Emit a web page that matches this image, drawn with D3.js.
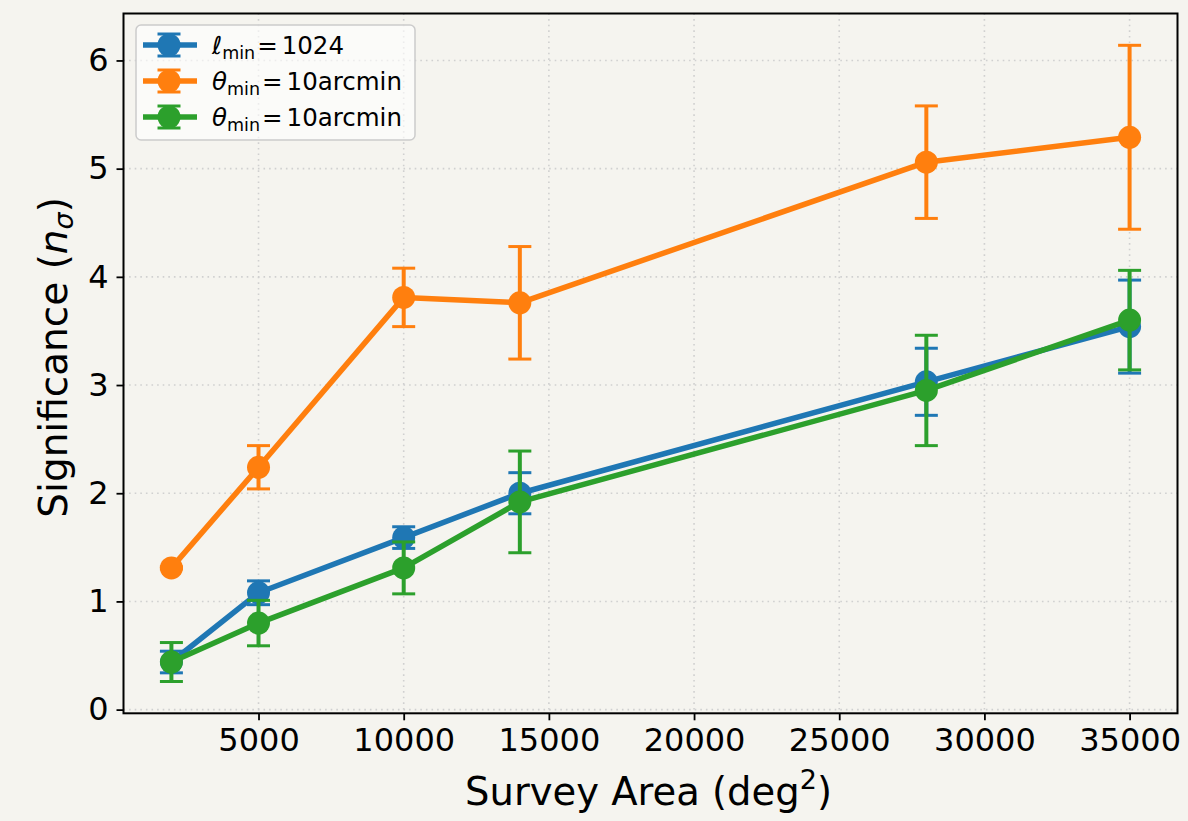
<!DOCTYPE html>
<html><head><meta charset="utf-8">
<script src="https://cdn.jsdelivr.net/npm/d3@7"></script>
<style>
html,body{margin:0;padding:0;background:#f5f4ef;}
text{font-family:"DejaVu Sans",sans-serif;}
</style></head>
<body>
<svg id="chart" width="1188" height="821"></svg>
<script>
const areas = [2000, 5000, 10000, 14000, 28000, 35000];
const xTicks = [5000, 10000, 15000, 20000, 25000, 30000, 35000];
const yTicks = [0, 1, 2, 3, 4, 5, 6];

const blueVals = [0.44, 1.08, 1.59, 2.00, 3.03, 3.54];
const blueErr  = [0.10, 0.11, 0.10, 0.19, 0.31, 0.43];
const orangeVals = [1.31, 2.24, 3.81, 3.76, 5.06, 5.29];
const orangeErr  = [0.01, 0.20, 0.27, 0.52, 0.52, 0.85];
const greenVals = [0.44, 0.80, 1.31, 1.92, 2.95, 3.60];
const greenErr  = [0.18, 0.21, 0.24, 0.47, 0.51, 0.46];

const legendSymbols = ["ℓ", "θ", "θ"];
const legendValues = ["1024", "10arcmin", "10arcmin"];

const series = [
  {vals: blueVals, err: blueErr, color: "#1f77b4"},
  {vals: orangeVals, err: orangeErr, color: "#ff7f0e"},
  {vals: greenVals, err: greenErr, color: "#2ca02c"}
];

const svg = d3.select("#chart");
const L = 123.5, R = 1177.5, T = 13.5, B = 713.3;
const x = d3.scaleLinear().domain([350, 36650]).range([L, R]);
const y = d3.scaleLinear().domain([-0.034, 6.434]).range([B, T]);

// grid
const grid = svg.append("g");
grid.selectAll("line.gx").data(xTicks).join("line")
  .attr("x1", d => x(d)).attr("x2", d => x(d)).attr("y1", T).attr("y2", B)
  .attr("stroke", "#d0d0d0").attr("stroke-width", 1.6).attr("stroke-dasharray", "1.6,4");
grid.selectAll("line.gy").data(yTicks).join("line")
  .attr("y1", d => y(d)).attr("y2", d => y(d)).attr("x1", L).attr("x2", R)
  .attr("stroke", "#d0d0d0").attr("stroke-width", 1.6).attr("stroke-dasharray", "1.6,4");

// series
const cap = 11.5;
series.forEach(s => {
  const g = svg.append("g");
  const pts = areas.map((a, i) => ({x: a, y: s.vals[i], e: s.err[i]}));
  g.append("path").datum(pts)
    .attr("d", d3.line().x(d => x(d.x)).y(d => y(d.y)))
    .attr("fill", "none").attr("stroke", s.color).attr("stroke-width", 5.5)
    .attr("stroke-linejoin", "round");
  g.selectAll("line.eb").data(pts).join("line")
    .attr("x1", d => x(d.x)).attr("x2", d => x(d.x))
    .attr("y1", d => y(d.y - d.e)).attr("y2", d => y(d.y + d.e))
    .attr("stroke", s.color).attr("stroke-width", 4);
  ["-", "+"].forEach(sign => {
    g.selectAll("line.cap" + (sign === "-" ? "m" : "p")).data(pts).join("line")
      .attr("x1", d => x(d.x) - cap).attr("x2", d => x(d.x) + cap)
      .attr("y1", d => y(sign === "-" ? d.y - d.e : d.y + d.e))
      .attr("y2", d => y(sign === "-" ? d.y - d.e : d.y + d.e))
      .attr("stroke", s.color).attr("stroke-width", 3);
  });
  g.selectAll("circle").data(pts).join("circle")
    .attr("cx", d => x(d.x)).attr("cy", d => y(d.y)).attr("r", 11.5)
    .attr("fill", s.color);
});

// axes
const xAxis = svg.append("g").attr("transform", `translate(0,${B})`)
  .call(d3.axisBottom(x).tickValues(xTicks).tickFormat(d3.format("d")).tickSize(7).tickPadding(8));
const yAxis = svg.append("g").attr("transform", `translate(${L},0)`)
  .call(d3.axisLeft(y).tickValues(yTicks).tickFormat(d3.format("d")).tickSize(7).tickPadding(8));
[xAxis, yAxis].forEach(a => {
  a.select(".domain").remove();
  a.selectAll(".tick line").attr("stroke", "#000").attr("stroke-width", 1.8);
  a.selectAll(".tick text").attr("font-size", 32).attr("fill", "#000")
    .attr("font-family", "DejaVu Sans");
});
svg.append("rect").attr("x", L).attr("y", T).attr("width", R - L).attr("height", B - T)
  .attr("fill", "none").attr("stroke", "#000").attr("stroke-width", 2);

// axis labels
const xl = svg.append("text").attr("x", (L + R) / 2 - 2).attr("y", 805)
  .attr("text-anchor", "middle").attr("font-size", 38.5).attr("fill", "#000");
xl.append("tspan").text("Survey Area (deg");
xl.append("tspan").text("2").attr("font-size", 27).attr("dy", -16);
xl.append("tspan").text(")").attr("dy", 16);

const yl = svg.append("text").attr("transform", `translate(67,${(T + B) / 2 - 6}) rotate(-90)`)
  .attr("text-anchor", "middle").attr("font-size", 39).attr("fill", "#000");
yl.append("tspan").text("Significance (");
yl.append("tspan").text("n").attr("font-style", "italic");
yl.append("tspan").text("σ").attr("font-style", "italic").attr("font-size", 27).attr("dy", 6);
yl.append("tspan").text(")").attr("dy", -6);

// legend
const lg = svg.append("g");
lg.append("rect").attr("x", 136).attr("y", 25).attr("width", 279).attr("height", 115)
  .attr("rx", 5).attr("fill", "#ffffff").attr("fill-opacity", 0.6)
  .attr("stroke", "#cccccc").attr("stroke-width", 1.5);
const rowsY = [45, 81, 117];
series.forEach((s, i) => {
  const ry = rowsY[i];
  lg.append("line").attr("x1", 143).attr("x2", 197).attr("y1", ry).attr("y2", ry)
    .attr("stroke", s.color).attr("stroke-width", 5.5);
  lg.append("line").attr("x1", 169).attr("x2", 169).attr("y1", ry - 11).attr("y2", ry + 11)
    .attr("stroke", s.color).attr("stroke-width", 4);
  [-11, 11].forEach(o => lg.append("line").attr("x1", 169 - cap).attr("x2", 169 + cap)
    .attr("y1", ry + o).attr("y2", ry + o).attr("stroke", s.color).attr("stroke-width", 3));
  lg.append("circle").attr("cx", 169).attr("cy", ry).attr("r", 11.5).attr("fill", s.color);
  const t = lg.append("text").attr("x", 212).attr("y", ry + 9).attr("font-size", 24.5).attr("fill", "#000");
  t.append("tspan").text(legendSymbols[i]).attr("font-style", "italic");
  t.append("tspan").text("min").attr("font-size", 17.5).attr("dy", 5);
  t.append("tspan").text("=").attr("dy", -5).attr("dx", 2);
  t.append("tspan").text(legendValues[i]).attr("dx", 4);
});
</script>
</body></html>
